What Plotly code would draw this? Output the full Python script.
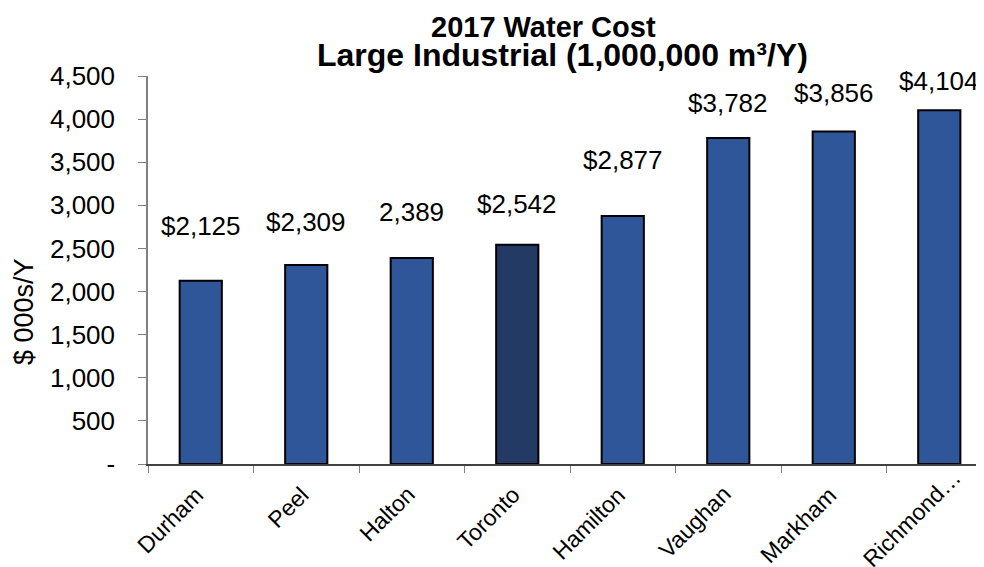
import plotly.graph_objects as go

categories = ["Durham", "Peel", "Halton", "Toronto", "Hamilton", "Vaughan", "Markham", "Richmond…"]
values = [2125, 2309, 2389, 2542, 2877, 3782, 3856, 4104]
value_labels = ["$2,125", "$2,309", "2,389", "$2,542", "$2,877", "$3,782", "$3,856", "$4,104"]
y_tickvals = [0, 500, 1000, 1500, 2000, 2500, 3000, 3500, 4000, 4500]
y_ticktext = ["-", "500", "1,000", "1,500", "2,000", "2,500", "3,000", "3,500", "4,000", "4,500"]
title_line1 = "2017 Water Cost"
title_line2 = "Large Industrial (1,000,000 m³/Y)"
y_title = "$ 000s/Y"

# styling
FONT = "Liberation Sans, Arial"
bar_colors = ["#30569A", "#30569A", "#30569A", "#233A64", "#30569A", "#30569A", "#30569A", "#30569A"]
label_shift = [55, 43, 46, 41, 56, 35, 39, 29]
xlabel_dx = [9, 9, 9, 9, 9, 9, 9, 28]
xlabel_dy = [-16, -16, -16, -16, -16, -16, -16, 2]

fig = go.Figure()
fig.add_trace(go.Bar(
    x=categories, y=values, width=0.4,
    marker=dict(color=bar_colors, line=dict(color="#000000", width=2)),
    hoverinfo="skip",
))

for c, v, t, s in zip(categories, values, value_labels, label_shift):
    fig.add_annotation(x=c, y=v, text=t, showarrow=False, yanchor="middle",
                       yshift=s, font=dict(size=26, color="#000000", family=FONT))

# rotated category labels
for c, dx, dy in zip(categories, xlabel_dx, xlabel_dy):
    fig.add_annotation(x=c, y=0, text=c, showarrow=False, textangle=-45,
                       xanchor="right", yanchor="top", xshift=dx, yshift=dy,
                       borderpad=0,
                       font=dict(size=23, color="#000000", family=FONT))

# titles (paper coords relative to plot area: screen x 148..984, y 76..464 px)
fig.add_annotation(xref="paper", yref="paper", x=(543 - 148) / 836, y=(464 - 27) / 388,
                   text="<b>" + title_line1 + "</b>", showarrow=False,
                   xanchor="center", yanchor="middle", borderpad=0,
                   font=dict(size=29, color="#000000", family=FONT))
fig.add_annotation(xref="paper", yref="paper", x=(562 - 148) / 836, y=(464 - 55) / 388,
                   text="<b>" + title_line2 + "</b>", showarrow=False,
                   xanchor="center", yanchor="middle", borderpad=0,
                   font=dict(size=32, color="#000000", family=FONT))
fig.add_annotation(xref="paper", yref="paper", x=(24 - 148) / 836, y=(464 - 312) / 388,
                   text=y_title, showarrow=False, textangle=-90,
                   xanchor="center", yanchor="middle",
                   font=dict(size=27, color="#000000", family=FONT))

fig.update_layout(
    width=976, height=559,
    margin=dict(l=140, r=0, t=68, b=103, autoexpand=False),
    paper_bgcolor="white", plot_bgcolor="white",
    showlegend=False,
    font=dict(family=FONT, color="#000000"),
    xaxis=dict(type="category", range=[-0.5, 7.424], tickson="boundaries",
               ticks="outside", ticklen=7, tickcolor="#808080",
               showline=True, linecolor="#404040", linewidth=1.5,
               showticklabels=False, showgrid=False, automargin=False),
    yaxis=dict(range=[0, 4500], tickvals=y_tickvals, ticktext=y_ticktext,
               ticks="outside", ticklen=8, tickcolor="#808080",
               showline=True, linecolor="#808080", linewidth=1.5,
               showgrid=False, zeroline=False, tickfont=dict(size=26),
               automargin=False, ticklabelstandoff=18),
)

fig.write_html("out.html")
